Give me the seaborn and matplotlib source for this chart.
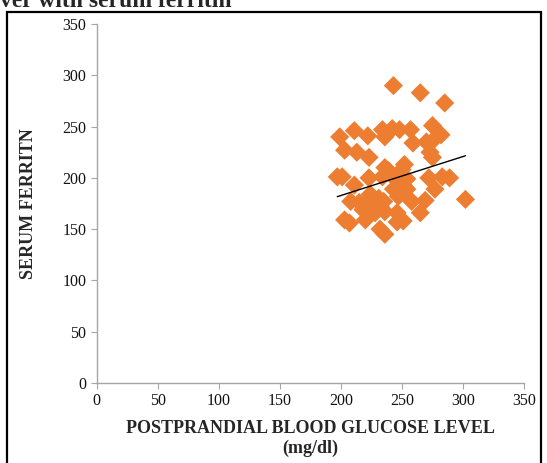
import numpy as np
import pandas as pd
import seaborn as sns
import matplotlib
matplotlib.use('Agg')
import matplotlib.pyplot as plt
from matplotlib.patches import Rectangle

# values
glucose = [243, 265, 285, 275, 282, 199, 211, 222, 234, 242, 248, 257, 236, 259, 270, 275,
           203, 213, 223, 273, 275, 236, 252, 250, 197, 201, 223, 234, 241, 248, 254, 272,
           283, 289, 211, 243, 254, 277, 247, 208, 215, 224, 222, 231, 235, 258, 269, 302,
           218, 226, 232, 228, 236, 246, 265, 220, 203, 207, 246, 251, 232, 236, 239, 251]
ferritin = [290, 283, 273, 251, 242, 240, 246, 241, 247, 248, 247, 247, 240, 234, 235, 236,
            227, 225, 220, 225, 220, 210, 213, 208, 201, 201, 200, 201, 203, 198, 199, 200,
            201, 200, 193, 189, 189, 189, 182, 177, 176, 184, 177, 180, 177, 177, 178, 179,
            169, 172, 172, 166, 167, 166, 166, 159, 159, 156, 157, 158, 150, 145, 207, 193]

# trend line as drawn in the picture (slope, intercept)
trend_coef = [0.38, 106.8]

df = pd.DataFrame({'glucose': glucose, 'ferritin': ferritin})

sns.set_style('white')
plt.rcParams['font.family'] = ['Liberation Serif', 'DejaVu Serif']

fig = plt.figure(figsize=(5.47, 4.63), dpi=100)
ax = fig.add_axes([0.177, 0.173, 0.781, 0.775])

sns.scatterplot(data=df, x='glucose', y='ferritin', marker='D', s=95,
                color='#ED7D31', edgecolor='none', ax=ax)

xx = np.array([df['glucose'].min(), df['glucose'].max()])
ax.plot(xx, np.polyval(trend_coef, xx), color='black', lw=1)

ax.set_xlim(0, 350)
ax.set_ylim(0, 350)
ax.set_xticks(range(0, 351, 50))
ax.set_yticks(range(0, 351, 50))
for s in ['top', 'right']:
    ax.spines[s].set_visible(False)
for s in ['left', 'bottom']:
    ax.spines[s].set_color('#a6a6a6')
    ax.spines[s].set_linewidth(1)
ax.tick_params(axis='both', direction='out', length=4, color='#a6a6a6',
               labelsize=11.5, labelcolor='#111111', bottom=True, left=True)
ax.set_xlabel('POSTPRANDIAL BLOOD GLUCOSE LEVEL\n(mg/dl)', fontsize=13,
              fontweight='bold', linespacing=1.15, labelpad=8)
ax.set_ylabel('SERUM FERRITN', fontsize=13, fontweight='bold', labelpad=18)

# frame around the chart and cut-off caption above it
fig.patches.append(Rectangle((7 / 547, -0.1), 534 / 547, 1.1 - 12 / 463,
                             transform=fig.transFigure, fill=False,
                             edgecolor='black', lw=1.6))
fig.text(0.0, 1 - 7 / 463, 'ver with serum ferritin', fontsize=17, fontweight='bold',
         ha='left', va='baseline')

fig.savefig('out.png', dpi=100)
